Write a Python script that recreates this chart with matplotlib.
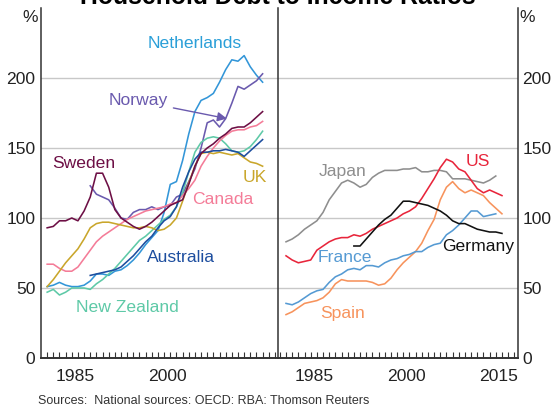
import matplotlib
matplotlib.use("Agg")
import matplotlib.pyplot as plt

plt.rcParams['font.family'] = ['Liberation Sans', 'DejaVu Sans']

# ---- left panel data (per cent of disposable income) ----
years_l = list(range(1981, 2017))
sweden = [93, 94, 98, 98, 100, 98, 105, 115, 132, 132, 122, 106, 100, 97, 94, 92, 94, 97,
          101, 105, 109, 111, 113, 124, 137, 146, 150, 153, 157, 160, 164, 165, 165, 168, 172, 176]
netherlands = [51, 52, 54, 52, 51, 51, 52, 55, 60, 60, 59, 62, 63, 66, 70, 75, 81, 86,
               91, 104, 124, 126, 141, 160, 176, 184, 186, 189, 197, 206, 213, 212, 216, 208, 202, 197]
new_zealand = [47, 49, 45, 47, 50, 50, 50, 49, 53, 56, 60, 64, 69, 74, 79, 84, 87, 91,
               95, 99, 102, 108, 118, 133, 147, 154, 157, 158, 157, 153, 148, 147, 148, 151, 156, 162]
uk = [51, 56, 62, 68, 73, 78, 85, 93, 96, 97, 97, 96, 95, 94, 93, 93, 94, 93,
      91, 92, 95, 100, 112, 125, 137, 146, 147, 146, 147, 146, 145, 146, 143, 140, 139, 137]
canada = [67, 67, 64, 62, 62, 65, 71, 77, 83, 87, 90, 93, 96, 99, 101, 103, 105, 106,
          107, 108, 110, 111, 116, 121, 127, 137, 144, 150, 155, 159, 162, 163, 163, 165, 166, 169]

years_au = list(range(1988, 2017))
australia = [59, 60, 61, 62, 63, 65, 69, 73, 78, 83, 87, 93, 98, 101, 108, 122, 133, 142,
             147, 147, 148, 148, 149, 148, 147, 144, 148, 152, 156]
years_no = list(range(1988, 2017))
norway = [123, 117, 115, 113, 107, 100, 99, 104, 106, 106, 108, 106, 108, 109, 115, 117, 126, 135,
          150, 168, 170, 165, 171, 182, 194, 192, 195, 198, 203]

# ---- right panel data ----
years_r = list(range(1981, 2017))
us = [73, 70, 68, 69, 70, 77, 80, 83, 85, 86, 86, 88, 87, 89, 92, 94, 96, 98,
      100, 103, 105, 108, 114, 121, 128, 136, 142, 140, 135, 133, 127, 121, 118, 120, 118, 116]
spain = [31, 33, 36, 39, 40, 41, 43, 47, 53, 56, 55, 55, 55, 55, 54, 52, 53, 57,
         63, 68, 72, 76, 82, 91, 99, 113, 122, 126, 121, 118, 120, 118, 116, 111, 107, 103]
years_jp = list(range(1981, 2016))
japan = [83, 85, 88, 92, 95, 98, 104, 113, 119, 125, 127, 125, 122, 124, 129, 132, 134, 134,
         134, 135, 135, 136, 133, 133, 134, 134, 133, 128, 128, 128, 127, 126, 125, 127, 130]
france = [39, 38, 40, 43, 46, 48, 49, 54, 58, 60, 63, 64, 63, 66, 66, 65, 68, 70,
          71, 73, 74, 76, 76, 79, 81, 82, 88, 91, 95, 100, 105, 105, 101, 102, 103]
years_de = list(range(1992, 2017))
germany = [80, 80, 85, 90, 95, 99, 102, 107, 112, 112, 111, 110, 109, 107, 105, 102, 98, 96,
           96, 94, 92, 91, 90, 90, 89]

yticks = [0, 50, 100, 150, 200]
year_labels_l = ['1985', '2000']
year_labels_r = ['1985', '2000', '2015']

fs = 12.6
grid_c = '#c8c8c8'
spine_c = '#333333'

fig = plt.figure(figsize=(5.51, 4.09), dpi=100)
axl = fig.add_axes([41 / 551, 51 / 409, 237 / 551, 350 / 409])
axr = fig.add_axes([278 / 551, 51 / 409, 240 / 551, 350 / 409])


def style(ax, x0, x1, labels):
    ax.set_xlim(x0, x1)
    ax.set_ylim(0, 250)
    ax.set_yticks(yticks)
    for v in yticks[1:]:
        ax.axhline(v, color=grid_c, lw=1, zorder=0)
    ax.set_xticks([int(s) + 0.5 for s in labels])
    ax.set_xticklabels(labels, fontsize=fs, color='#222222')
    ax.set_xticks(range(int(x0) + 1, int(x1) + 1), minor=True)
    ax.tick_params(axis='x', which='major', length=0, pad=8)
    ax.tick_params(axis='x', which='minor', direction='in', length=4, width=0.8, color=spine_c)
    ax.tick_params(axis='y', length=0, labelsize=fs, labelcolor='#222222')
    ax.spines['top'].set_visible(False)
    for s in ['left', 'right', 'bottom']:
        ax.spines[s].set_color(spine_c)
        ax.spines[s].set_linewidth(1.1)
    ax.spines['bottom'].set_linewidth(1.4)


style(axl, 1980, 2018.5, year_labels_l)
style(axr, 1979.7, 2018.6, year_labels_r)
axl.spines['right'].set_visible(False)
axl.tick_params(axis='y', pad=4)
axr.yaxis.tick_right()
axr.tick_params(axis='y', pad=3)

lw = 1.15
axl.plot(years_l, netherlands, color='#3396d8', lw=lw)
axl.plot(years_no, norway, color='#6a5aae', lw=lw)
axl.plot(years_l, new_zealand, color='#5ec9a7', lw=lw)
axl.plot(years_l, canada, color='#f47c98', lw=lw)
axl.plot(years_l, uk, color='#c9a62b', lw=lw)
axl.plot(years_au, australia, color='#1d4e9f', lw=lw)
axl.plot(years_l, sweden, color='#6d0f45', lw=lw)

axr.plot(years_jp, japan, color='#8e8e8e', lw=lw)
axr.plot(years_r, spain, color='#f7935c', lw=lw)
axr.plot(years_jp, france, color='#559ad3', lw=lw)
axr.plot(years_r, us, color='#e8253b', lw=lw)
axr.plot(years_de, germany, color='#111111', lw=lw)

axl.text(2005.0, 225, 'Netherlands', color='#2a9fd8', fontsize=fs, ha='center', va='center')
axl.text(1987.0, 139, 'Sweden', color='#6d0f45', fontsize=fs, ha='center', va='center')
axl.text(2014.8, 128.6, 'UK', color='#c9a62b', fontsize=fs, ha='center', va='center')
axl.text(2009.6, 113, 'Canada', color='#f47c98', fontsize=fs, ha='center', va='center')
axl.text(2002.8, 72, 'Australia', color='#1d4e9f', fontsize=fs, ha='center', va='center')
axl.text(1994.0, 36.4, 'New Zealand', color='#5ec9a7', fontsize=fs, ha='center', va='center')
axl.annotate('Norway', xy=(2010.2, 171), xytext=(1995.8, 183.6), color='#6a5aae',
             fontsize=fs, ha='center', va='center',
             arrowprops=dict(arrowstyle='-|>', color='#6a5aae', lw=1, mutation_scale=14,
                             shrinkA=2, shrinkB=0))

axr.text(1990.2, 133, 'Japan', color='#8e8e8e', fontsize=fs, ha='center', va='center')
axr.text(2012.1, 140, 'US', color='#e8253b', fontsize=fs, ha='center', va='center')
axr.text(2012.1, 79.3, 'Germany', color='#111111', fontsize=fs, ha='center', va='center')
axr.text(1990.6, 72, 'France', color='#559ad3', fontsize=fs, ha='center', va='center')
axr.text(1990.1, 32, 'Spain', color='#f7935c', fontsize=fs, ha='center', va='center')

fig.text(30 / 551, 1 - 17 / 409, '%', fontsize=fs, ha='center', va='center', color='#222222')
fig.text(527 / 551, 1 - 17 / 409, '%', fontsize=fs, ha='center', va='center', color='#222222')
# title sits mostly above the top edge, as in the source image
fig.text(278 / 551, 1 - 4.5 / 409, 'Household Debt to Income Ratios', fontsize=17.8,
         fontweight='bold', ha='center', va='baseline')
fig.text(38 / 551, 1 - 404 / 409, 'Sources:  National sources: OECD: RBA: Thomson Reuters',
         fontsize=9, ha='left', va='baseline', color='#333333')

fig.savefig('out.png', dpi=100)
